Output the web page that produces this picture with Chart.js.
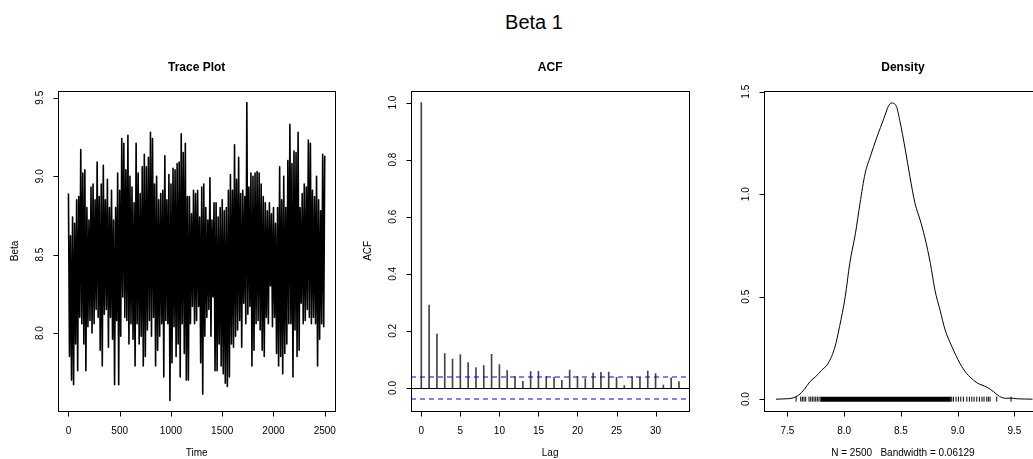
<!DOCTYPE html>
<html>
<head>
<meta charset="utf-8">
<title>Beta 1</title>
<script src="https://cdn.jsdelivr.net/npm/chart.js@4.4.1/dist/chart.umd.min.js"></script>
<style>
  html, body { margin: 0; padding: 0; background: #fff; overflow: hidden; }
  #wrap { position: relative; width: 1033px; height: 459px; overflow: hidden; }
  #mainTitle { position: absolute; left: 0; top: 9px; width: 1068px; text-align: center;
               font: 20px "Liberation Sans", Arial, sans-serif; line-height: 26px; }
  canvas { position: absolute; top: 0; }
</style>
</head>
<body>
<div id="wrap">
  <div id="mainTitle">Beta 1</div>
  <canvas id="traceChart" width="350" height="459" style="left:0px"></canvas>
  <canvas id="acfChart" width="360" height="459" style="left:350px"></canvas>
  <canvas id="densChart" width="360" height="459" style="left:710px"></canvas>
</div>
<script>
// ---- data ----
var nDraws = 2500;
var bandwidth = 0.06129;

// thinned chain, one value every 10 iterations (upper / lower swings)
var traceStep = 10;
var betaTrace = [
  8.89,7.85, 8.62,7.70, 8.74,7.67, 8.70,7.93, 8.85,7.76, 8.87,8.10, 9.17,8.06, 9.02,7.93, 9.04,7.76, 8.80,8.04,
  8.72,8.08, 8.93,8.00, 8.95,8.06, 8.85,8.15, 9.09,8.10, 8.87,7.89, 8.95,7.79, 9.07,8.12, 8.85,8.15, 8.98,7.91,
  8.80,8.10, 8.91,7.96, 8.72,7.67, 8.80,8.08, 9.02,7.67, 8.91,7.98, 9.24,8.23, 9.21,8.10, 9.04,8.08, 9.26,7.93,
  9.00,8.06, 8.93,7.96, 8.83,7.79, 9.21,8.06, 9.02,7.93, 8.89,7.98, 9.06,7.79, 9.14,7.85, 9.06,8.02, 9.12,8.08,
  9.28,7.98, 9.24,8.10, 8.95,7.79, 9.00,7.89, 8.85,7.98, 8.89,8.06, 8.91,7.72, 9.13,8.08, 8.85,8.06, 9.01,7.57,
  8.95,7.81, 9.05,8.04, 9.04,7.85, 9.08,7.93, 9.09,7.72, 9.27,8.06, 9.15,7.87, 9.21,7.70, 8.87,7.70, 8.87,8.06,
  8.76,8.17, 8.91,8.06, 8.89,8.08,
  8.91,8.17, 8.74,7.81, 8.93,7.61, 8.95,7.98, 8.80,8.10, 8.72,8.15, 8.99,7.98, 8.72,8.23, 8.83,7.76, 8.83,7.76,
  8.74,7.93, 8.80,7.79, 8.85,7.74, 8.78,7.68, 8.80,7.66, 8.91,7.72, 9.01,7.93, 8.91,7.91, 9.20,7.98, 8.98,8.02,
  9.12,8.08, 8.89,7.91, 8.91,8.19, 8.87,8.06, 9.47,8.12, 8.93,8.17, 9.02,7.79, 9.00,7.89, 9.02,8.06, 9.03,8.08,
  9.02,8.02, 8.95,7.89, 8.87,7.85,
  8.83,8.10, 8.78,8.06, 8.83,8.30, 8.76,8.04, 8.80,8.10, 8.70,7.87, 8.80,7.79, 9.06,7.85, 8.85,7.74, 9.00,7.87,
  8.80,7.93, 9.10,8.06, 9.33,8.06, 9.08,7.72, 9.16,8.02, 9.15,7.85, 9.28,7.89, 8.80,8.19, 8.89,8.06, 8.95,8.08,
  8.93,8.15, 9.23,8.10, 9.21,8.06, 8.91,8.10, 8.87,8.06, 9.00,7.79, 8.85,7.96, 8.78,8.06, 9.14,8.04,
  9.13
];
var traceXTicks = [0, 500, 1000, 1500, 2000, 2500];
var traceYTicks = [8.0, 8.5, 9.0, 9.5];

var acfValues = [1.000, 0.290, 0.189, 0.120, 0.101, 0.117, 0.089, 0.071, 0.078, 0.118,
                 0.082, 0.061, 0.041, 0.023, 0.057, 0.058, 0.041, 0.038, 0.027, 0.063,
                 0.041, 0.033, 0.052, 0.055, 0.056, 0.037, 0.008, 0.040, 0.037, 0.059,
                 0.050, 0.010, 0.035, 0.022];
var acfXTicks = [0, 5, 10, 15, 20, 25, 30];
var acfYTicks = [0.0, 0.2, 0.4, 0.6, 0.8, 1.0];

var densX = [7.40, 7.50, 7.55, 7.60, 7.65, 7.70, 7.75, 7.80, 7.86, 7.92,
             7.96, 8.01, 8.05, 8.10, 8.14, 8.185, 8.23, 8.29, 8.35, 8.39,
             8.42, 8.46, 8.49, 8.54, 8.58, 8.625, 8.67, 8.71, 8.76, 8.80,
             8.845, 8.89, 8.95, 9.02, 9.08, 9.11, 9.17, 9.26, 9.32, 9.37,
             9.43, 9.47, 9.52, 9.66];
var densY = [0.000, 0.002, 0.006, 0.020, 0.048, 0.086, 0.110, 0.140, 0.175, 0.256,
             0.354, 0.500, 0.663, 0.809, 0.955, 1.101, 1.182, 1.280, 1.369, 1.429,
             1.445, 1.429, 1.361, 1.215, 1.085, 0.955, 0.874, 0.792, 0.663, 0.533,
             0.435, 0.338, 0.256, 0.175, 0.125, 0.108, 0.080, 0.058, 0.035, 0.013,
             0.004, 0.005, 0.002, 0.000];
// rug: sparse ticks at both ends, solid in between
var rugTicks = [7.577, 7.618, 7.632, 7.647, 7.662, 7.691, 7.706, 7.720, 7.735, 7.750, 7.764, 7.779,
                8.948, 8.963, 8.986, 9.007, 9.028, 9.051, 9.081, 9.104, 9.125, 9.145, 9.169,
                9.192, 9.215, 9.233, 9.257, 9.271, 9.286, 9.345, 9.471];
var rugDense = [7.79, 8.94];
var densXTicks = [7.5, 8.0, 8.5, 9.0, 9.5];
var densYTicks = [0.0, 0.5, 1.0, 1.5];

// ---- R style axes drawn on top of each chart ----
var FONT = '"Liberation Sans", Arial, sans-serif';
var rAxes = {
  id: 'rAxes',
  afterDraw: function(chart, args, o) {
    var ctx = chart.ctx, a = chart.chartArea;
    var xs = chart.scales.x, ys = chart.scales.y;
    var L = Math.round(a.left) + 0.5, T = Math.round(a.top) + 0.5;
    var R = Math.round(a.right) + 0.5, B = Math.round(a.bottom) + 0.5;
    ctx.save();
    ctx.strokeStyle = '#000';
    ctx.lineWidth = 1;
    ctx.strokeRect(L, T, R - L, B - T);
    ctx.beginPath();
    o.xTicks.forEach(function(v) {
      var px = Math.round(xs.getPixelForValue(v)) + 0.5;
      ctx.moveTo(px, B); ctx.lineTo(px, B + 5);
    });
    o.yTicks.forEach(function(v) {
      var py = Math.round(ys.getPixelForValue(v)) + 0.5;
      ctx.moveTo(L - 5, py); ctx.lineTo(L, py);
    });
    ctx.stroke();
    ctx.fillStyle = '#000';
    ctx.font = '10px ' + FONT;
    ctx.textAlign = 'center';
    ctx.textBaseline = 'middle';
    o.xTicks.forEach(function(v) {
      ctx.fillText(v.toFixed(o.xDigits), xs.getPixelForValue(v), B + 20);
    });
    o.yTicks.forEach(function(v) {
      ctx.save();
      ctx.translate(L - 18, ys.getPixelForValue(v));
      ctx.rotate(-Math.PI / 2);
      ctx.fillText(v.toFixed(o.yDigits), 0, 0);
      ctx.restore();
    });
    var cx = (a.left + a.right) / 2;
    if (o.xTitle) ctx.fillText(o.xTitle, cx, 453);
    if (o.yTitle) {
      ctx.save();
      ctx.translate(L - 43, (a.top + a.bottom) / 2);
      ctx.rotate(-Math.PI / 2);
      ctx.fillText(o.yTitle, 0, 0);
      ctx.restore();
    }
    ctx.font = 'bold 12px ' + FONT;
    ctx.fillText(o.title, cx, 68);
    ctx.restore();
  }
};

// horizontal reference lines (zero line, confidence bounds) for the ACF panel
function makeHLines(lines) {
  return {
    id: 'hLines',
    afterDatasetsDraw: function(chart) {
      var ctx = chart.ctx, a = chart.chartArea, ys = chart.scales.y;
      ctx.save();
      lines.forEach(function(l) {
        var py = Math.round(ys.getPixelForValue(l.value)) + (l.snap ? 0.5 : 0);
        ctx.strokeStyle = l.stroke;
        ctx.lineWidth = l.width || 1;
        ctx.setLineDash(l.dash || []);
        ctx.beginPath(); ctx.moveTo(a.left, py); ctx.lineTo(a.right, py); ctx.stroke();
      });
      ctx.restore();
    }
  };
}

function baseOptions(pad, xMin, xMax, yMin, yMax, axes) {
  return {
    responsive: false,
    animation: false,
    events: [],
    layout: { padding: pad },
    scales: {
      x: { type: 'linear', display: false, min: xMin, max: xMax, offset: false },
      y: { type: 'linear', display: false, min: yMin, max: yMax }
    },
    plugins: { legend: { display: false }, tooltip: { enabled: false }, rAxes: axes }
  };
}

// ---- Trace plot ----
var tracePts = betaTrace.map(function(v, i) { return { x: i * traceStep, y: v }; });
new Chart(document.getElementById('traceChart'), {
  type: 'line',
  data: { datasets: [{
    data: tracePts, borderColor: '#000', borderWidth: 1.6, pointRadius: 0,
    tension: 0, borderJoinStyle: 'round'
  }] },
  options: baseOptions({ left: 58.3, right: 15, top: 90.7, bottom: 48 }, -99, 2600, 7.503, 9.545,
    { xTicks: traceXTicks, yTicks: traceYTicks, xDigits: 0, yDigits: 1,
      title: 'Trace Plot', xTitle: 'Time', yTitle: 'Beta' }),
  plugins: [rAxes]
});

// ---- ACF ----
var ci = 1.96 / Math.sqrt(nDraws);
new Chart(document.getElementById('acfChart'), {
  type: 'bar',
  data: { datasets: [{
    data: acfValues.map(function(v, i) { return { x: i, y: v }; }),
    backgroundColor: '#444', barThickness: 1, grouped: false
  }] },
  options: baseOptions({ left: 61, right: 20.7, top: 90.7, bottom: 48 }, -1.32, 34.32, -0.0808, 1.0416,
    { xTicks: acfXTicks, yTicks: acfYTicks, xDigits: 0, yDigits: 1,
      title: 'ACF', xTitle: 'Lag', yTitle: 'ACF' }),
  plugins: [rAxes, makeHLines([
    { value: 0, stroke: '#000000', snap: true },
    { value: ci, stroke: '#0000ff', width: 1.2, dash: [5, 4] },
    { value: -ci, stroke: '#0000ff', width: 1.2, dash: [5, 4] }
  ])]
});

// ---- Density ----
new Chart(document.getElementById('densChart'), {
  type: 'line',
  data: { datasets: [
    { data: densX.map(function(x, i) { return { x: x, y: densY[i] }; }),
      borderColor: '#000', borderWidth: 1, pointRadius: 0, cubicInterpolationMode: 'monotone' },
    { data: rugDense.map(function(x) { return { x: x, y: 0 }; }),
      borderColor: '#000', borderWidth: 5, borderCapStyle: 'butt', pointRadius: 0 },
    { data: rugTicks.map(function(x) { return { x: x, y: 0 }; }),
      showLine: false, pointStyle: 'line', rotation: 90, pointRadius: 2.5,
      borderColor: '#000', pointBorderWidth: 1 }
  ] },
  options: baseOptions({ left: 54.3, right: 28.4, top: 90.7, bottom: 48 }, 7.297, 9.74, -0.0578, 1.505,
    { xTicks: densXTicks, yTicks: densYTicks, xDigits: 1, yDigits: 1,
      title: 'Density', xTitle: 'N = ' + nDraws + '   Bandwidth = ' + bandwidth }),
  plugins: [rAxes]
});
</script>
</body>
</html>
